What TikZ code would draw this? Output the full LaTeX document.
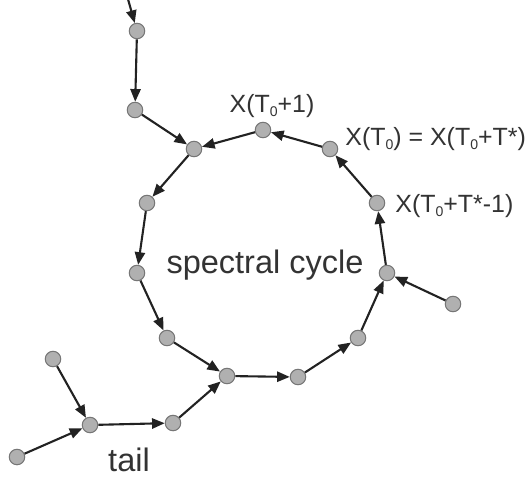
\documentclass[tikz,border=0pt]{standalone}
\usepackage{fontspec}
\setmainfont{Liberation Sans}
\usepackage{tikz}
\usetikzlibrary{arrows.meta}
\definecolor{nodegray}{RGB}{176,176,176}
\definecolor{rimgray}{RGB}{118,118,118}
\definecolor{darkgray}{RGB}{34,34,34}
\definecolor{textgray}{RGB}{51,51,51}
\newcommand{\subz}{\raisebox{-2.6pt}{\fontsize{8}{9}\selectfont 0}}

\begin{document}
\begin{tikzpicture}[>={Triangle[length=7.2pt,width=5.8pt]},
  stt/.style={circle, fill=nodegray, draw=rimgray, line width=0.6pt, minimum size=0.31cm, inner sep=0pt},
  link/.style={->, draw=darkgray, line width=1.2pt},
  lbl/.style={text=textgray, font=\fontsize{14.2}{17}\selectfont, inner sep=0pt},
  big/.style={text=textgray, font=\fontsize{18.5}{22}\selectfont, inner sep=0pt}]
\clip (0,0) rectangle (10.6,-9.52);
% cycle
\node[stt] (c1) at (3.88,-2.98) {};
\node[stt] (c2) at (2.94,-4.06) {};
\node[stt] (c3) at (2.74,-5.46) {};
\node[stt] (c4) at (3.34,-6.76) {};
\node[stt] (c5) at (4.54,-7.52) {};
\node[stt] (c6) at (5.96,-7.54) {};
\node[stt] (c7) at (7.16,-6.76) {};
\node[stt] (c8) at (7.74,-5.46) {};
\node[stt] (c9) at (7.54,-4.06) {};
\node[stt] (c10) at (6.60,-2.98) {};
\node[stt] (c11) at (5.26,-2.60) {};
\draw[link] (c1)--(c2); \draw[link] (c2)--(c3); \draw[link] (c3)--(c4);
\draw[link] (c4)--(c5); \draw[link] (c5)--(c6); \draw[link] (c6)--(c7);
\draw[link] (c7)--(c8); \draw[link] (c8)--(c9); \draw[link] (c9)--(c10);
\draw[link] (c10)--(c11); \draw[link] (c11)--(c1);
% branches into the cycle
\coordinate (a0) at (2.48,0.30);
\node[stt] (a1) at (2.74,-0.62) {};
\node[stt] (a2) at (2.70,-2.20) {};
\draw[link] (a0)--(a1); \draw[link] (a1)--(a2); \draw[link] (a2)--(c1);
\node[stt] (e1) at (9.06,-6.08) {};
\draw[link] (e1)--(c8);
% tail
\node[stt] (t1) at (1.06,-7.18) {};
\node[stt] (t2) at (0.34,-9.14) {};
\node[stt] (t3) at (1.80,-8.50) {};
\node[stt] (t4) at (3.46,-8.46) {};
\draw[link] (t1)--(t3); \draw[link] (t2)--(t3); \draw[link] (t3)--(t4); \draw[link] (t4)--(c5);
% labels
\node[lbl, anchor=base] (l11) at (5.44,-2.24) {X(T\subz+1)};
\node[lbl, anchor=base west] (l10) at (6.90,-2.90) {X(T\subz) = X(T\subz+T*)};
\node[lbl, anchor=base west] (l9) at (7.90,-4.24) {X(T\subz+T*-1)};
\node[big, anchor=base] (lcyc) at (5.30,-5.46) {spectral cycle};
\node[big, anchor=base] (ltail) at (2.58,-9.42) {tail};
\end{tikzpicture}
\end{document}
